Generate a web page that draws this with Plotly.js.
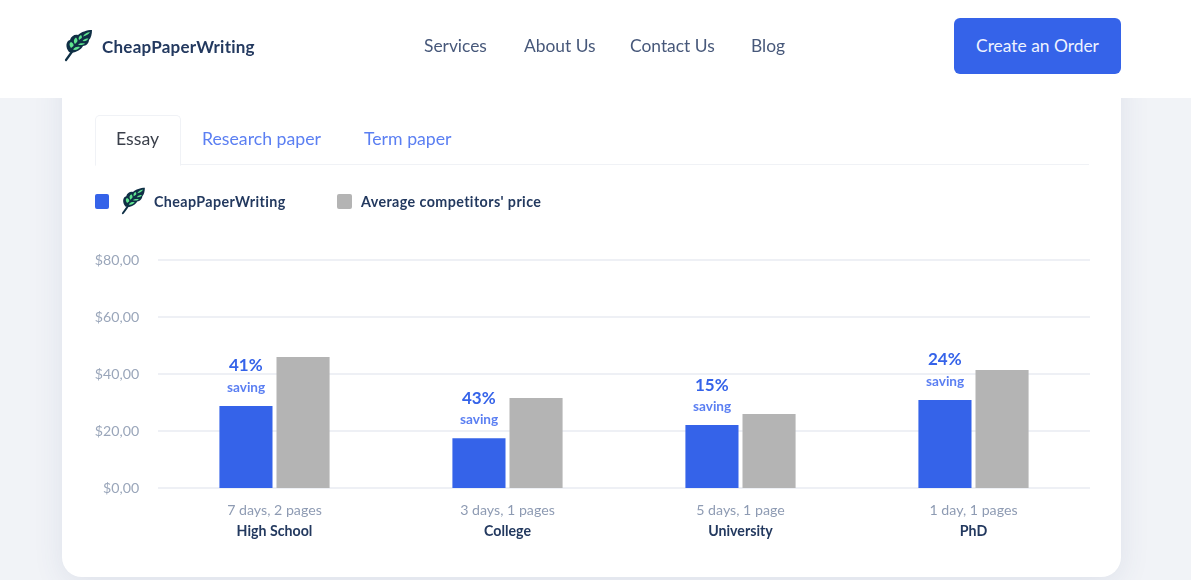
<!DOCTYPE html>
<html>
<head>
<meta charset="utf-8">
<script src="https://cdn.plot.ly/plotly-3.0.1.min.js"></script>
<style>
html,body{margin:0;padding:0;width:1191px;height:580px;overflow:hidden;background:#f1f3f7;font-family:Lato,"Open Sans",sans-serif}
#page{position:absolute;left:0;top:0;width:1191px;height:580px;filter:blur(0.45px)}
.abs{position:absolute;white-space:nowrap}
#card{position:absolute;left:62px;top:60px;width:1059px;height:517px;background:#fff;border-radius:20px;box-shadow:0 6px 30px rgba(60,80,130,.10)}
#header{position:absolute;left:0;top:0;width:1191px;height:98px;background:#fff}
#chart{position:absolute;left:0;top:0;width:1191px;height:580px}
.nav{font-size:17.4px;color:#47587a;top:35px}
#btn{position:absolute;left:954px;top:18px;width:167px;height:56px;border-radius:6px;background:#3563e9;color:#eef2ff;font-size:17.4px;line-height:55px;text-align:center}
#tab{position:absolute;left:95px;top:115px;width:84px;height:49px;border:1px solid #f0f2f6;border-bottom:1px solid #fff;border-radius:5px 5px 0 0;z-index:2;background:#fff}
#tabline{position:absolute;left:95px;top:164px;width:994px;height:1px;background:#f0f2f6}
.tabt{font-size:17.7px;top:128px;z-index:3}
.brand{font-weight:700;color:#23395f}
</style>
</head>
<body>
<div id="page">
<div id="card"></div>
<div id="header"></div>
<div id="tabline"></div>
<div id="tab"></div>
<div id="chart"></div>

<svg width="0" height="0" style="position:absolute"><defs><g id="leaf">
<path d="M3 31 C6 27 8 24 11 20" stroke="#0f2f45" stroke-width="2.2" fill="none" stroke-linecap="round"/>
<path d="M6 23 C2 18 3 12 7 11 C8 7 12 5 15 6 C18 3 24 1 29 1 C29 5 28 9 26 11 C26 14 23 17 20 17 C18 21 11 25 6 23 Z" fill="#0f2f45"/>
<path d="M8 19 C6 16 6 14 8 13 C10 14 11 15 10.5 17 Z M12 15 C10 12 11 10 13 8.5 C14.5 10 15 12 14 13 Z M16 11 C15 9 16 7 18 6 C19 7 19.5 9 18 9.5 Z M20 7.5 C21 5 24 3.5 27 3 C26 5 23 7 20 7.5 Z M10 20.5 C12 18 14 17.5 17 18 C15 20.5 12.5 21.5 10 20.5 Z M15 15.5 C17 14 19 14 22 14.5 C20.5 16 17.5 16.5 15 15.5 Z M19.5 12 C21 10 23 9.5 25.5 9.5 C24.5 11.5 22 12.5 19.5 12 Z" fill="#5fe58f"/>
</g></defs></svg>
<svg class="abs" style="left:63px;top:29px" width="30" height="33" viewBox="0 0 30 33"><use href="#leaf"/></svg>
<div class="abs brand" style="left:102px;top:36px;font-size:17px;letter-spacing:.25px">CheapPaperWriting</div>
<div class="abs nav" style="left:424px">Services</div>
<div class="abs nav" style="left:524px">About Us</div>
<div class="abs nav" style="left:630px">Contact Us</div>
<div class="abs nav" style="left:751px">Blog</div>
<div id="btn">Create an Order</div>
<div class="abs tabt" style="left:116px;color:#3a3f4a">Essay</div>
<div class="abs tabt" style="left:202px;color:#5b7ff2">Research paper</div>
<div class="abs tabt" style="left:364px;color:#5b7ff2">Term paper</div>

<div class="abs" style="left:95px;top:194px;width:14px;height:15px;background:#3563e9;border-radius:2px"></div>
<svg class="abs" style="left:120px;top:187px" width="26" height="28" viewBox="0 0 30 33"><use href="#leaf"/></svg>
<div class="abs brand" style="left:154px;top:193px;font-size:14.3px;letter-spacing:.4px">CheapPaperWriting</div>
<div class="abs" style="left:337px;top:194px;width:15px;height:15px;background:#b4b4b4;border-radius:2px"></div>
<div class="abs brand" style="left:361px;top:193px;font-size:14.3px;letter-spacing:.4px">Average competitors' price</div>
</div>

<script>
const categories = ["High School", "College", "University", "PhD"];
const deadlines = ["7 days, 2 pages", "3 days, 1 pages", "5 days, 1 page", "1 day, 1 pages"];
const ourPrice = [28.8, 17.5, 22.1, 30.9];
const competitorPrice = [46, 31.6, 26, 41.4];
const savings = ["41%", "43%", "15%", "24%"];
const yTicks = [0, 20, 40, 60, 80];
const yTickLabels = ["$0,00", "$20,00", "$40,00", "$60,00", "$80,00"];

const tickText = categories.map((c, i) =>
  '<span style="font-size:14.2px;fill:#8e9bb3">' + deadlines[i] + '</span><br>' +
  '<span style="font-size:14.2px;font-weight:700;fill:#23395f">' + c + '</span>');

const annotations = [];
categories.forEach((c, i) => {
  annotations.push({x: c, y: ourPrice[i], xref: 'x', yref: 'y', xshift: -29, yshift: 41, yanchor: 'middle',
    text: '<b>' + savings[i] + '</b>', showarrow: false, font: {family: 'Lato', size: 17, color: '#3563e9'}});
  annotations.push({x: c, y: ourPrice[i], xref: 'x', yref: 'y', xshift: -29, yshift: 19, yanchor: 'middle',
    text: '<b>saving</b>', showarrow: false, font: {family: 'Lato', size: 13.6, color: '#5b7ff2'}});
});

Plotly.newPlot('chart', [
  {type: 'bar', name: 'CheapPaperWriting', x: categories, y: ourPrice, marker: {color: '#3563e9'}},
  {type: 'bar', name: "Average competitors' price", x: categories, y: competitorPrice, marker: {color: '#b4b4b4'}}
], {
  width: 1191, height: 580,
  margin: {l: 158, r: 101, t: 258, b: 90, pad: 0},
  paper_bgcolor: 'rgba(0,0,0,0)', plot_bgcolor: 'rgba(0,0,0,0)',
  barmode: 'group', bargap: 0.51, bargroupgap: 0.07,
  showlegend: false,
  font: {family: 'Lato'},
  xaxis: {type: 'category', categoryorder: 'array', categoryarray: categories, tickmode: 'array',
    tickvals: categories, ticktext: tickText, ticks: '', showgrid: false, zeroline: false, showline: false,
    ticklabelstandoff: 8,
    tickfont: {family: 'Lato', size: 16, color: '#8e9bb3'}, fixedrange: true},
  yaxis: {range: [-0.7, 80.7], tickmode: 'array', tickvals: yTicks, ticktext: yTickLabels, ticks: 'outside',
    ticklen: 15, tickcolor: 'rgba(0,0,0,0)', gridcolor: '#eef0f5', gridwidth: 1.5, zeroline: false, showline: false,
    tickfont: {family: 'Lato', size: 14.2, color: '#9aa6ba'}, fixedrange: true},
  annotations: annotations
}, {displayModeBar: false, staticPlot: true});
</script>
</body>
</html>
